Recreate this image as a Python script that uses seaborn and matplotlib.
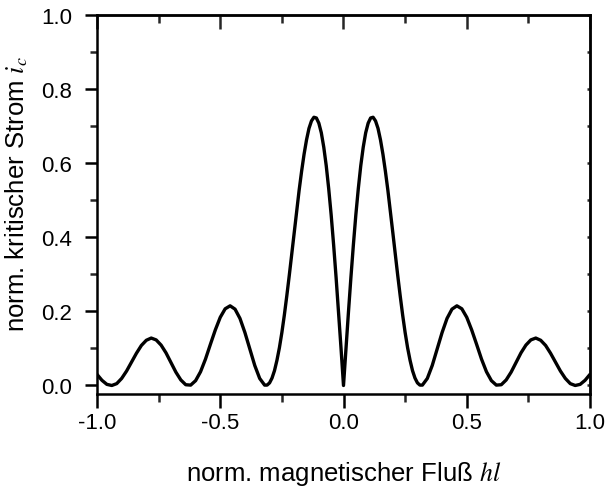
import matplotlib
matplotlib.use("Agg")
import matplotlib.pyplot as plt
import numpy as np
import pandas as pd
import seaborn as sns
from matplotlib.ticker import MultipleLocator

# values
flux = [-1.00, -0.98, -0.96, -0.94, -0.92, -0.90, -0.88, -0.86, -0.84, -0.82,
        -0.80, -0.78, -0.76, -0.74, -0.72, -0.70, -0.68, -0.66, -0.64, -0.62,
        -0.60, -0.58, -0.56, -0.54, -0.52, -0.50, -0.48, -0.46, -0.44, -0.42,
        -0.40, -0.38, -0.36, -0.34, -0.32,
        -0.31, -0.30, -0.29, -0.28, -0.27, -0.26, -0.25, -0.24, -0.23, -0.22,
        -0.21, -0.20, -0.19, -0.18, -0.17, -0.16, -0.15, -0.14, -0.13, -0.12,
        -0.11, -0.10, -0.09, -0.08, -0.07, -0.06, -0.05, -0.04, -0.03, -0.02,
        -0.01, 0.00,
        0.01, 0.02, 0.03, 0.04, 0.05, 0.06, 0.07, 0.08, 0.09, 0.10,
        0.11, 0.12, 0.13, 0.14, 0.15, 0.16, 0.17, 0.18, 0.19, 0.20,
        0.21, 0.22, 0.23, 0.24, 0.25, 0.26, 0.27, 0.28, 0.29, 0.30, 0.31,
        0.32, 0.34, 0.36, 0.38, 0.40, 0.42, 0.44, 0.46, 0.48, 0.50,
        0.52, 0.54, 0.56, 0.58, 0.60, 0.62, 0.64, 0.66, 0.68, 0.70,
        0.72, 0.74, 0.76, 0.78, 0.80, 0.82, 0.84, 0.86, 0.88, 0.90,
        0.92, 0.94, 0.96, 0.98, 1.00]

critical_current = [
    0.030, 0.014, 0.003, 0.000, 0.005, 0.019, 0.039, 0.063, 0.087, 0.108,
    0.122, 0.128, 0.123, 0.109, 0.088, 0.062, 0.036, 0.015, 0.002, 0.001,
    0.013, 0.037, 0.071, 0.111, 0.150, 0.184, 0.207, 0.215, 0.206, 0.181,
    0.143, 0.099, 0.054, 0.019, 0.001,
    0.001, 0.007, 0.020, 0.040, 0.068, 0.102, 0.143, 0.190, 0.242, 0.297,
    0.355, 0.413, 0.471, 0.527, 0.578, 0.624, 0.663, 0.694, 0.714, 0.724,
    0.722, 0.708, 0.682, 0.643, 0.593, 0.531, 0.460, 0.379, 0.291, 0.197,
    0.100, 0.000,
    0.100, 0.197, 0.291, 0.379, 0.460, 0.531, 0.593, 0.643, 0.682, 0.708,
    0.722, 0.724, 0.714, 0.694, 0.663, 0.624, 0.578, 0.527, 0.471, 0.413,
    0.355, 0.297, 0.242, 0.190, 0.143, 0.102, 0.068, 0.040, 0.020, 0.007, 0.001,
    0.001, 0.019, 0.054, 0.099, 0.143, 0.181, 0.206, 0.215, 0.207, 0.184,
    0.150, 0.111, 0.071, 0.037, 0.013, 0.001, 0.002, 0.015, 0.036, 0.062,
    0.088, 0.109, 0.123, 0.128, 0.122, 0.108, 0.087, 0.063, 0.039, 0.019,
    0.005, 0.000, 0.003, 0.014, 0.030]

x_label = "norm. magnetischer Fluß $hl$"
y_label = "norm. kritischer Strom $i_c$"

sns.set_theme(style="white")
plt.rcParams['font.family'] = ['Liberation Sans', 'DejaVu Sans']
plt.rcParams['mathtext.fontset'] = 'stix'
plt.rcParams['axes.unicode_minus'] = False

df = pd.DataFrame({"flux": flux, "ic": critical_current})

W, H = 605, 489
fig = plt.figure(figsize=(W / 100, H / 100), dpi=100)
ax = fig.add_axes([97 / W, 1 - 395 / H, 493 / W, 379 / H])

sns.lineplot(data=df, x="flux", y="ic", ax=ax, color="black", linewidth=2.4,
             sort=False, estimator=None)

ax.set_xlim(-1.0, 1.0)
ax.set_ylim(-0.023, 1.0)

lw = 1.8
for s in ax.spines.values():
    s.set_visible(True)
    s.set_color("black")
    s.set_linewidth(lw)

ax.xaxis.set_major_locator(MultipleLocator(0.5))
ax.xaxis.set_minor_locator(MultipleLocator(0.25))
ax.yaxis.set_major_locator(MultipleLocator(0.2))
ax.yaxis.set_minor_locator(MultipleLocator(0.1))
ax.xaxis.set_major_formatter(matplotlib.ticker.FormatStrFormatter('%.1f'))
ax.yaxis.set_major_formatter(matplotlib.ticker.FormatStrFormatter('%.1f'))

ax.tick_params(axis='x', which='major', direction='out', length=10, width=lw,
               bottom=True, top=False, labelsize=16, pad=3, colors='black')
ax.tick_params(axis='x', which='minor', direction='out', length=6, width=lw,
               bottom=True, top=False)
ax.tick_params(axis='y', which='major', direction='out', length=9, width=lw,
               left=True, right=False, labelsize=16, pad=9, colors='black')
ax.tick_params(axis='y', which='minor', direction='out', length=5, width=lw,
               left=True, right=False)

top = ax.secondary_xaxis('top')
top.xaxis.set_major_locator(MultipleLocator(0.5))
top.xaxis.set_minor_locator(MultipleLocator(0.25))
top.tick_params(axis='x', which='major', direction='in', length=10, width=lw,
                labeltop=False)
top.tick_params(axis='x', which='minor', direction='in', length=6, width=lw)
for s in top.spines.values():
    s.set_linewidth(lw)

right = ax.secondary_yaxis('right')
right.yaxis.set_major_locator(MultipleLocator(0.1))
right.tick_params(axis='y', which='major', direction='in', length=2, width=lw,
                  labelright=False)
for s in right.spines.values():
    s.set_linewidth(lw)

ax.set_xlabel(x_label, fontsize=18.5, color='black')
ax.set_ylabel(y_label, fontsize=18.5, color='black')
ax.xaxis.set_label_coords(0.5, -0.172)
ax.yaxis.set_label_coords(-0.135, 0.53)

fig.savefig("out.png", dpi=100)
